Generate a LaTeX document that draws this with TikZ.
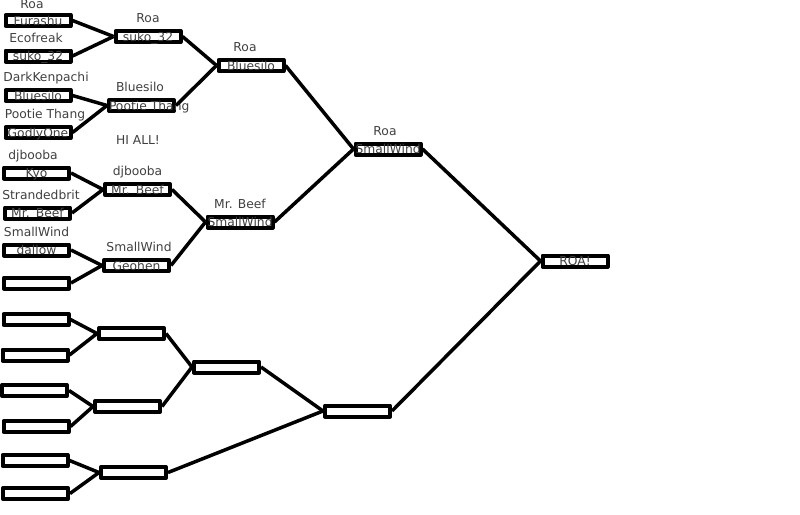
\documentclass[tikz,border=0pt]{standalone}
\usepackage{fontspec}
\setmainfont{DejaVu Sans}
\begin{document}
\begin{tikzpicture}[x=1pt,y=-1pt,line join=round,line width=3.5pt,
		font=\fontsize{12.3}{15}\selectfont,label distance=4.3pt]
	\tikzset{player/.style={draw,line width=4pt,rectangle,inner sep=0pt,text width=65pt,align=center,
			minimum height=11pt,text height=9pt,text depth=0pt,text=black!75},
		lbl/.style={inner sep=0pt,text depth=0pt,text=black!75}}
	\useasboundingbox (0,0) rectangle (800,514);
	% first round
	\node[player,label={[lbl,xshift=-6pt,yshift=-1.2pt]above:Roa}] (p1) at (38,20.5) {Furashu};
	\node[player,label={[lbl,xshift=-2pt]above:Ecofreak}] (p2) at (38,56) {suko\_32};
	\node[player,label={[lbl,xshift=8pt]above:DarkKenpachi}] (p3) at (38,95.5) {Bluesilo};
	\node[player,label={[lbl,xshift=7pt]above:Pootie Thang}] (p4) at (38,132.5) {GodlyOne};
	\node[player,label={[lbl,xshift=-3.5pt]above:djbooba}] (p5) at (36.5,173) {Kyo};
	\node[player,label={[lbl,xshift=3.5pt]above:Strandedbrit}] (p6) at (37.5,213) {Mr. Beef};
	\node[player,label={[lbl]above:SmallWind}] (p7) at (36.5,250) {dallow};
	\node[player] (p8) at (36.5,283) {};
	\node[player] (p9) at (36,319.5) {};
	\node[player] (p10) at (35,355) {};
	\node[player] (p11) at (34.5,390.5) {};
	\node[player] (p12) at (36,426.5) {};
	\node[player] (p13) at (35,460.5) {};
	\node[player] (p14) at (35.5,493.5) {};
	\node[lbl] (hi) at (138,140) {HI ALL!};
	% second round
	\node[player,label={[lbl]above:Roa}] (q1) at (148,36.5) {suko\_32};
	\node[player,label={[lbl,xshift=-1.5pt]above:Bluesilo}] (q2) at (141.5,105.5) {\mbox{Pootie Thang}};
	\node[player,label={[lbl]above:djbooba}] (q3) at (137.5,189.5) {Mr. Beef};
	\node[player,label={[lbl,xshift=2.5pt]above:SmallWind}] (q4) at (136.5,265.5) {Geohen};
	\node[player] (q5) at (131.5,333.5) {};
	\node[player] (q6) at (127.5,406.5) {};
	\node[player] (q7) at (133.5,472.5) {};
	% third round
	\node[player,label={[lbl,xshift=-6pt]above:Roa}] (s1) at (251,65.5) {Bluesilo};
	\node[player,label={[lbl]above:Mr. Beef}] (s2) at (240,222) {\mbox{SmallWind}};
	\node[player] (s3) at (226.5,367) {};
	% semi final and final
	\node[player,label={[lbl,xshift=-3pt]above:Roa}] (t1) at (388,149) {\mbox{SmallWind}};
	\node[player] (t2) at (357.5,411) {};
	\node[player] (win) at (575,261) {ROA!};
	\foreach \a/\b in {p1/q1,p2/q1,p3/q2,p4/q2,p5/q3,p6/q3,p7/q4,p8/q4,
			p9/q5,p10/q5,p11/q6,p12/q6,p13/q7,p14/q7,
			q1/s1,q2/s1,q3/s2,q4/s2,q5/s3,q6/s3,q7/t2,
			s1/t1,s2/t1,s3/t2,t1/win,t2/win}{
		\draw (\a.east) -- (\b.west);
	}
\end{tikzpicture}
\end{document}
